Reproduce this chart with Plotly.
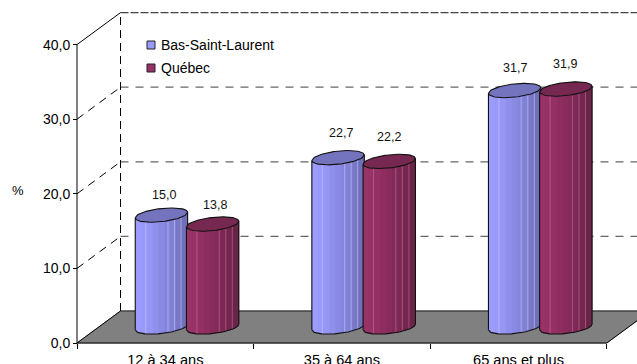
import math
import plotly.graph_objects as go

# Data
categories = ["12 à 34 ans", "35 à 64 ans", "65 ans et plus"]
bas_saint_laurent = [15.0, 22.7, 31.7]
quebec = [13.8, 22.2, 31.9]
series_names = ["Bas-Saint-Laurent", "Québec"]
y_ticks = [0, 10, 20, 30, 40]
y_tick_labels = ["0,0", "10,0", "20,0", "30,0", "40,0"]

# Canvas and scale
W, H = 637, 364
X0_PX, Y0_PX = 77.0, 343.0
CAT_PX, UNIT_PX = 176.6, 7.46
DEPTH_PX_X, DEPTH_PX_Y = 43.5, 32.0
FONT = "Liberation Sans, Arial, sans-serif"

DX = DEPTH_PX_X / CAT_PX
DY = DEPTH_PX_Y / UNIT_PX
YMAX = 40


def sx(px):
    return px / CAT_PX


def sy(px):
    return px / UNIT_PX


# Cylinder proportions
BAR_A = sx(26.2)
TILT = sy(2.8)
BAR_B = sy(6.6)

# Hand placement of the value labels, in pixels from the top of each cylinder
LABEL_LIFT = ([20, 25, 23], [19, 24, 25])
LABEL_NUDGE = ([3, 3, 0], [2, 0, -1])

BLUE = {"stops": [(156, 156, 255), (150, 150, 245), (138, 138, 228), (128, 128, 212), (112, 112, 186)],
        "top": "#7474BE", "hair": "rgba(205,205,255,0.5)", "key": "#9999FF"}
PLUM = {"stops": [(153, 51, 102), (148, 48, 100), (136, 44, 92), (124, 40, 84), (106, 36, 72)],
        "top": "#772850", "hair": "rgba(215,130,170,0.45)", "key": "#993366"}

fig = go.Figure()


def line(xs, ys, color="black", width=1, dash="solid"):
    fig.add_trace(go.Scatter(x=xs, y=ys, mode="lines", showlegend=False, hoverinfo="skip",
                             line=dict(color=color, width=width, dash=dash)))


def poly(xs, ys, fill, edge=None, width=1):
    fig.add_trace(go.Scatter(x=xs, y=ys, mode="lines", fill="toself", fillcolor=fill,
                             showlegend=False, hoverinfo="skip",
                             line=dict(color=edge or fill, width=width)))


def rim(cy, u, sign):
    return cy + TILT * u + sign * BAR_B * math.sqrt(max(0.0, 1 - u * u))


def cylinder(cx, value, style):
    cy_top = value + DY / 2
    cy_base = DY / 2
    m = 48
    ts = [-1 + 2 * i / m for i in range(m + 1)]
    stops = style["stops"]
    # shaded body: each band is painted through to the right edge, so no seams show
    bands = 9
    for i in range(bands):
        f = i / (bands - 1) * (len(stops) - 1)
        k = min(int(f), len(stops) - 2)
        c = [round(stops[k][j] + (stops[k + 1][j] - stops[k][j]) * (f - k)) for j in range(3)]
        col = f"rgb({c[0]},{c[1]},{c[2]})"
        start = -1 + 2 * i / bands
        us = [start] + [u for u in ts if u > start]
        xs = [cx + BAR_A * u for u in us]
        poly(xs + xs[::-1],
             [rim(cy_top, u, -1) for u in us] + [rim(cy_base, u, -1) for u in reversed(us)],
             col, "rgba(0,0,0,0)", 0)
    # pale facet lines
    for u in (-0.6, 0.25, 0.5, 0.75):
        line([cx + BAR_A * u] * 2, [rim(cy_top, u, -1), rim(cy_base, u, -1)], style["hair"], 1)
    # outline of the body
    xs = [cx + BAR_A * u for u in ts]
    line(xs + [xs[-1]], [rim(cy_base, u, -1) for u in ts] + [rim(cy_top, 1, -1)], "#111111", 1.1)
    line([xs[0], xs[0]], [rim(cy_base, -1, -1), rim(cy_top, -1, -1)], "#111111", 1.1)
    # top cap
    upper = [rim(cy_top, u, 1) for u in ts]
    lower = [rim(cy_top, u, -1) for u in reversed(ts)]
    poly(xs + xs[::-1], upper + lower, style["top"], "#111111", 1.1)


# Floor
poly([-0.5, -0.5 + DX, 2.5 + DX, 2.5, -0.5], [0, DY, DY, 0, 0], "#808080")
line([-0.5 + DX, 2.5 + DX], [DY, DY], "#222222", 1)

# Walls and gridlines
for v in y_ticks[1:-1]:
    line([-0.5 + DX, 2.5 + DX], [v + DY, v + DY], "#666666", 1.2, "8px,7px")
    line([-0.5, -0.5 + DX], [v, v + DY], "black", 1, "8px,6px")
line([-0.5 + DX, 2.5 + DX], [YMAX + DY, YMAX + DY], "#444444", 1.1, "8px,2px")
line([-0.5 + DX, -0.5 + DX], [DY, YMAX + DY], "black", 1, "8px,5px")
line([-0.5, -0.5 + DX], [YMAX, YMAX + DY], "black", 1)
line([-0.5, -0.5 + DX], [0, DY], "black", 1)
line([2.5, 2.5 + DX], [0, DY], "black", 1)

# Axis lines
line([-0.5, -0.5], [0, YMAX], "black", 1)
line([-0.5, 2.5], [0, 0], "black", 1)

# Cylinders, left of each pair first so its neighbour overlaps it
BAR_STEP = sx(25.6)
for i in range(len(categories)):
    centre = i + DX / 2
    cylinder(centre - BAR_STEP, bas_saint_laurent[i], BLUE)
    cylinder(centre + BAR_STEP, quebec[i], PLUM)

# Value labels
for i in range(len(categories)):
    centre = i + DX / 2
    for s, (off, vals) in enumerate(((-BAR_STEP, bas_saint_laurent), (BAR_STEP, quebec))):
        fig.add_annotation(x=centre + off + sx(LABEL_NUDGE[s][i]),
                           y=vals[i] + DY / 2 + sy(LABEL_LIFT[s][i]),
                           text=f"{vals[i]:.1f}".replace(".", ","), showarrow=False,
                           font=dict(family=FONT, size=12.5, color="#111111"))

# Series key
for name, style, row_px in zip(series_names, (BLUE, PLUM), (45, 68)):
    fig.add_trace(go.Scatter(
        x=[sx(151 - X0_PX) - 0.5], y=[sy(Y0_PX - row_px)], mode="markers",
        showlegend=False, hoverinfo="skip",
        marker=dict(symbol="square", size=8, color=style["key"], line=dict(color="#222222", width=1))))
    fig.add_annotation(x=sx(158.5 - X0_PX) - 0.5, y=sy(Y0_PX - row_px), text=name, showarrow=False,
                       xanchor="left", font=dict(family=FONT, size=14, color="black"))

fig.add_annotation(x=sx(18 - X0_PX) - 0.5, y=sy(Y0_PX - 190), text="%", showarrow=False,
                   font=dict(family=FONT, size=13, color="black"))

fig.update_layout(
    width=W, height=H, margin=dict(l=0, r=0, t=0, b=0),
    paper_bgcolor="white", plot_bgcolor="white", showlegend=False,
    font=dict(family=FONT, color="black"),
    xaxis=dict(
        automargin=False,
        domain=[0, 1], range=[-0.5 - sx(X0_PX), -0.5 + sx(W - X0_PX)],
        tickmode="array", tickvals=[0, 1, 2], ticktext=categories,
        tickfont=dict(family=FONT, size=14.6), ticks="", showgrid=False, zeroline=False,
        anchor="free", position=(H - Y0_PX) / H, ticklabelstandoff=6,
        minor=dict(tickmode="array", tickvals=[-0.5, 0.5, 1.5, 2.5], ticks="outside",
                   ticklen=5, tickcolor="black", tickwidth=1, showgrid=False),
    ),
    yaxis=dict(
        automargin=False,
        domain=[0, 1], range=[-sy(H - Y0_PX), sy(Y0_PX)],
        tickmode="array", tickvals=y_ticks, ticktext=y_tick_labels,
        tickfont=dict(family=FONT, size=14), ticks="outside", ticklen=4,
        tickcolor="black", showgrid=False, zeroline=False,
        anchor="free", position=X0_PX / W,
    ),
)

fig.write_html("out.html", config={"displayModeBar": False})
